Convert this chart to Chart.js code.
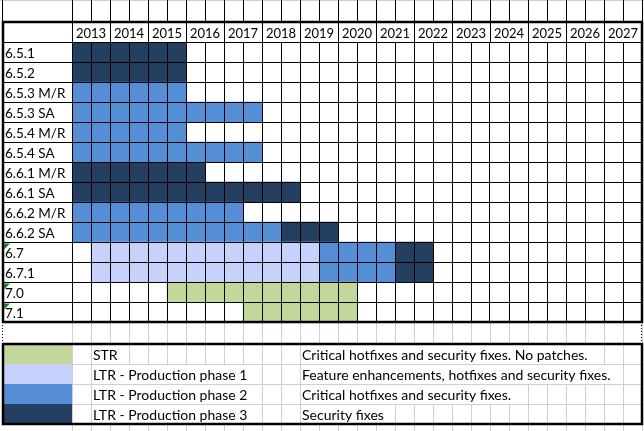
<!DOCTYPE html>
<html>
<head>
<meta charset="utf-8">
<script src="https://cdn.jsdelivr.net/npm/chart.js@4.4.1/dist/chart.umd.min.js"></script>
<style>
  html, body { margin: 0; padding: 0; background: #fff; }
</style>
</head>
<body>
<canvas id="chart" width="644" height="431"></canvas>
<script>
// rows of the support table
const versions = ['6.5.1', '6.5.2', '6.5.3 M/R', '6.5.3 SA', '6.5.4 M/R', '6.5.4 SA',
  '6.6.1 M/R', '6.6.1 SA', '6.6.2 M/R', '6.6.2 SA', '6.7', '6.7.1', '7.0', '7.1'];
// year header (each year = two half-year cells)
const years = [2013, 2014, 2015, 2016, 2017, 2018, 2019, 2020, 2021, 2022, 2023, 2024, 2025, 2026, 2027];

// [start, end] in years, per row (null = nothing in that phase)
const strSpans = [null, null, null, null, null, null, null, null, null, null, null, null,
  [2015.5, 2020.5], [2017.5, 2020.5]];
const phase1Spans = [null, null, null, null, null, null, null, null, null, null,
  [2013.5, 2019.5], [2013.5, 2019.5], null, null];
const phase2Spans = [null, null, [2013, 2016], [2013, 2018], [2013, 2016], [2013, 2018],
  null, null, [2013, 2017.5], [2013, 2018.5], [2019.5, 2021.5], [2019.5, 2021.5], null, null];
const phase3Spans = [[2013, 2016], [2013, 2016], null, null, null, null,
  [2013, 2016.5], [2013, 2019], null, [2018.5, 2020], [2021.5, 2022.5], [2021.5, 2022.5], null, null];

// legend table
const legendNames = ['STR', 'LTR - Production phase 1', 'LTR - Production phase 2', 'LTR - Production phase 3'];
const legendNotes = ['Critical hotfixes and security fixes. No patches.',
  'Feature enhancements, hotfixes and security fixes.',
  'Critical hotfixes and security fixes.',
  'Security fixes'];
// rows with the little green "number stored as text" flag
const flaggedRows = ['6.7', '7.0', '7.1'];

const COLORS = ['#C4D79B', '#C6D2FB', '#558ED5', '#253F60'];
const FONT = 'Lato';

function mkSet(label, spans, color) {
  return {
    label: label,
    data: spans,
    backgroundColor: color,
    borderWidth: 0,
    grouped: false,
    barPercentage: 1,
    categoryPercentage: 1
  };
}

// spreadsheet decorations: header rows, label column lines, thick borders, legend table
const sheetPlugin = {
  id: 'sheet',
  beforeDraw(chart) {
    const ctx = chart.ctx;
    ctx.save();
    ctx.fillStyle = '#fff';
    ctx.fillRect(0, 0, chart.width, chart.height);
    ctx.restore();
  },
  afterDraw(chart) {
    const ctx = chart.ctx;
    const a = chart.chartArea;
    const x = chart.scales.x;
    const y = chart.scales.y;
    const colW = x.getPixelForValue(years[0] + 0.5) - x.getPixelForValue(years[0]);
    const rowH = y.getPixelForValue(1) - y.getPixelForValue(0);
    const hdrTop = a.top - rowH;
    const L = 2, R = chart.width - 2;
    const halfCols = [];
    for (let v = years[0]; v <= years[years.length - 1] + 1; v += 0.5) halfCols.push(Math.round(x.getPixelForValue(v)) + 0.5);

    ctx.save();
    // light spreadsheet grid at the very top and under the table
    ctx.strokeStyle = '#d0d0d0';
    ctx.lineWidth = 1;
    ctx.beginPath();
    ctx.moveTo(0, 0.5); ctx.lineTo(chart.width, 0.5);
    const legTop = a.bottom + 22;
    halfCols.forEach(px => { ctx.moveTo(px, a.bottom); ctx.lineTo(px, chart.height); });
    for (let i = 1; i < legendNames.length; i++) {
      const yy = legTop + i * rowH + 0.5;
      ctx.moveTo(a.left, yy); ctx.lineTo(R, yy);
    }
    ctx.stroke();

    // top empty row: black half-year lines
    ctx.strokeStyle = '#000';
    ctx.beginPath();
    ctx.moveTo(L + 0.5, 0); ctx.lineTo(L + 0.5, hdrTop);
    halfCols.forEach(px => { ctx.moveTo(px, 0); ctx.lineTo(px, hdrTop); });
    // year row: lines only at year boundaries
    years.concat([years[years.length - 1] + 1]).forEach(v => {
      const px = Math.round(x.getPixelForValue(v)) + 0.5;
      ctx.moveTo(px, hdrTop); ctx.lineTo(px, a.top);
    });
    ctx.moveTo(L, a.top + 0.5); ctx.lineTo(a.left, a.top + 0.5);
    // row lines across the label column
    for (let i = 0; i <= versions.length; i++) {
      const yy = Math.round(y.getPixelForValue(i - 0.5)) + 0.5;
      ctx.moveTo(L, yy); ctx.lineTo(a.left, yy);
    }
    ctx.stroke();

    // page break dots
    ctx.setLineDash([1, 2]);
    ctx.beginPath();
    ctx.moveTo(L + 0.5, a.bottom); ctx.lineTo(L + 0.5, legTop);
    ctx.moveTo(R - 0.5, a.bottom); ctx.lineTo(R - 0.5, legTop);
    ctx.stroke();
    ctx.setLineDash([]);

    // thick outer border of the table
    ctx.lineWidth = 2.5;
    ctx.strokeRect(L + 1, hdrTop, R - L - 1, a.bottom - hdrTop);

    // green flags
    ctx.fillStyle = '#1c7c1c';
    flaggedRows.forEach(name => {
      const i = versions.indexOf(name);
      const yy = y.getPixelForValue(i - 0.5) + 1.5;
      ctx.beginPath();
      ctx.moveTo(L + 2, yy); ctx.lineTo(L + 8, yy); ctx.lineTo(L + 2, yy + 6);
      ctx.closePath(); ctx.fill();
    });

    // legend table
    ctx.font = '14px ' + FONT;
    ctx.textBaseline = 'alphabetic';
    const nameX = x.getPixelForValue(years[0] + 0.5);
    const noteX = x.getPixelForValue(years[0] + 6);
    const clearSpan = (x0, w, top) => {
      let end = x0;
      while (end < x0 + 3 + w) end += colW;
      ctx.fillStyle = '#fff';
      ctx.fillRect(x0 + 1, top + 1, end - x0 - 1, rowH - 1);
    };
    legendNames.forEach((name, i) => {
      const top = legTop + i * rowH;
      ctx.fillStyle = COLORS[i];
      ctx.fillRect(L + 1, top, a.left - L - 1, rowH);
      const w1 = ctx.measureText(name).width;
      const w2 = ctx.measureText(legendNotes[i]).width;
      clearSpan(nameX, w1, top);
      clearSpan(noteX, w2, top);
      ctx.fillStyle = '#000';
      ctx.fillText(name, nameX + 2, top + rowH - 4);
      ctx.fillText(legendNotes[i], noteX + 2, top + rowH - 4);
    });
    ctx.strokeStyle = '#000';
    ctx.lineWidth = 2.5;
    ctx.strokeRect(L + 1, legTop, R - L - 1, legendNames.length * rowH);
    ctx.restore();
  }
};

new Chart(document.getElementById('chart'), {
  type: 'bar',
  data: {
    labels: versions,
    datasets: [
      mkSet('STR', strSpans, COLORS[0]),
      mkSet('LTR - Production phase 1', phase1Spans, COLORS[1]),
      mkSet('LTR - Production phase 2', phase2Spans, COLORS[2]),
      mkSet('LTR - Production phase 3', phase3Spans, COLORS[3])
    ]
  },
  options: {
    indexAxis: 'y',
    responsive: false,
    animation: false,
    layout: { padding: { left: 5, right: 2, top: 0, bottom: 109 } },
    plugins: {
      legend: { display: false },
      tooltip: { enabled: false }
    },
    scales: {
      x: {
        type: 'linear',
        position: 'top',
        min: years[0],
        max: years[years.length - 1] + 1,
        afterFit(s) { s.height = 42; },
        grid: { color: '#000', lineWidth: 1, drawTicks: false, z: 1 },
        border: { display: false },
        ticks: {
          stepSize: 0.5,
          autoSkip: false,
          maxRotation: 0,
          padding: 0,
          color: '#000',
          font: { family: FONT, size: 13 },
          callback: v => (v % 1 === 0.5 ? String(Math.floor(v)) : '')
        }
      },
      y: {
        type: 'category',
        offset: true,
        afterFit(s) { s.width = 67; },
        grid: { color: '#000', lineWidth: 1, drawTicks: false, offset: true, z: 1 },
        border: { display: false },
        ticks: {
          crossAlign: 'far',
          padding: 0,
          labelOffset: 2,
          color: '#000',
          font: { family: FONT, size: 13.5 }
        }
      }
    }
  },
  plugins: [sheetPlugin]
});
</script>
</body>
</html>
